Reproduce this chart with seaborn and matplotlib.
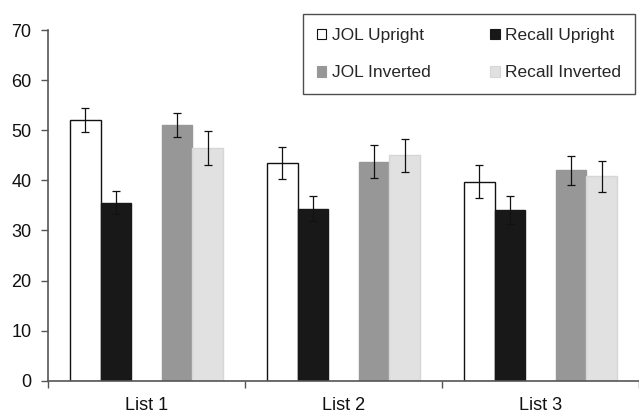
import numpy as np
import pandas as pd
import seaborn as sns
import matplotlib.pyplot as plt
from matplotlib.patches import Patch

# valores
lists = ['List 1', 'List 2', 'List 3']
jol_upright = [52.0, 43.5, 39.7]
recall_upright = [35.5, 34.3, 34.0]
jol_inverted = [51.0, 43.7, 42.0]
recall_inverted = [46.4, 45.0, 40.8]

jol_upright_err = [2.4, 3.2, 3.3]
recall_upright_err = [2.3, 2.5, 2.8]
jol_inverted_err = [2.4, 3.3, 2.9]
recall_inverted_err = [3.4, 3.3, 3.1]

conditions = ['JOL Upright', 'Recall Upright', 'JOL Inverted', 'Recall Inverted']
spacer = ' '  # nível vazio para o espaço entre os pares de barras
hue_order = ['JOL Upright', 'Recall Upright', spacer, 'JOL Inverted', 'Recall Inverted']

colors = {'JOL Upright': '#ffffff', 'Recall Upright': '#181818', spacer: '#ffffff',
          'JOL Inverted': '#979797', 'Recall Inverted': '#e1e1e1'}
edges = {'JOL Upright': '#111111', 'Recall Upright': '#181818', spacer: 'none',
         'JOL Inverted': '#979797', 'Recall Inverted': '#d6d6d6'}

values = dict(zip(conditions, [jol_upright, recall_upright, jol_inverted, recall_inverted]))
errors = dict(zip(conditions, [jol_upright_err, recall_upright_err, jol_inverted_err, recall_inverted_err]))

rows = []
for cond in hue_order:
    for i, lst in enumerate(lists):
        v = values[cond][i] if cond in values else np.nan
        rows.append({'list': lst, 'condition': cond, 'score': v})
df = pd.DataFrame(rows)

sns.set_theme(style='ticks')
plt.rcParams['font.family'] = ['Liberation Sans', 'DejaVu Sans']

fig = plt.figure(figsize=(6.39, 4.15), dpi=100)
ax = fig.add_axes([48 / 639, 34.3 / 415, 591 / 639, 350.7 / 415])

sns.barplot(data=df, x='list', y='score', hue='condition', hue_order=hue_order,
            order=lists, palette=colors, width=0.775, errorbar=None, legend=False,
            saturation=1, ax=ax)

# bordas e barras de erro
for cond, cont in zip(hue_order, ax.containers):
    for i, patch in enumerate(cont.patches):
        patch.set_edgecolor(edges[cond])
        patch.set_linewidth(1.0)
        if cond == spacer:
            continue
        cx = patch.get_x() + patch.get_width() / 2
        ax.errorbar(cx, patch.get_height(), yerr=errors[cond][i], fmt='none',
                    ecolor='#111111', elinewidth=0.9, capsize=2.6, capthick=0.9, zorder=5)

ax.set_ylim(0, 70)
ax.set_yticks(range(0, 71, 10))
ax.set_xlim(-0.5, 2.485)
ax.set_xlabel('')
ax.set_ylabel('')

ax.set_xticks([-0.5, 0.5, 1.5, 2.5], minor=True)
ax.tick_params(axis='x', which='major', length=0, pad=12, labelsize=13, labelcolor='#111111')
ax.tick_params(axis='x', which='minor', length=5, width=1, color='#555555', direction='out')
ax.tick_params(axis='y', length=5, width=1, color='#555555', pad=7, labelsize=13, labelcolor='#111111')

sns.despine(ax=ax)
for side in ['left', 'bottom']:
    ax.spines[side].set_color('#555555')
    ax.spines[side].set_linewidth(1.2)

legend_order = ['JOL Upright', 'JOL Inverted', 'Recall Upright', 'Recall Inverted']
handles = [Patch(facecolor=colors[c], edgecolor=edges[c] if c != 'JOL Upright' else '#111111',
                 linewidth=0.8, label=c) for c in legend_order]
leg = fig.legend(handles=handles, ncol=2, loc='upper left', bbox_to_anchor=(303 / 639, 401 / 415),
                 frameon=True, fancybox=False, fontsize=12.5, handlelength=0.55, handleheight=0.55,
                 handletextpad=0.3, columnspacing=3.45, labelspacing=1.3, borderpad=0.8,
                 borderaxespad=0)
leg.get_frame().set_edgecolor('#222222')
leg.get_frame().set_linewidth(1.0)

plt.savefig('out.png', dpi=100)
